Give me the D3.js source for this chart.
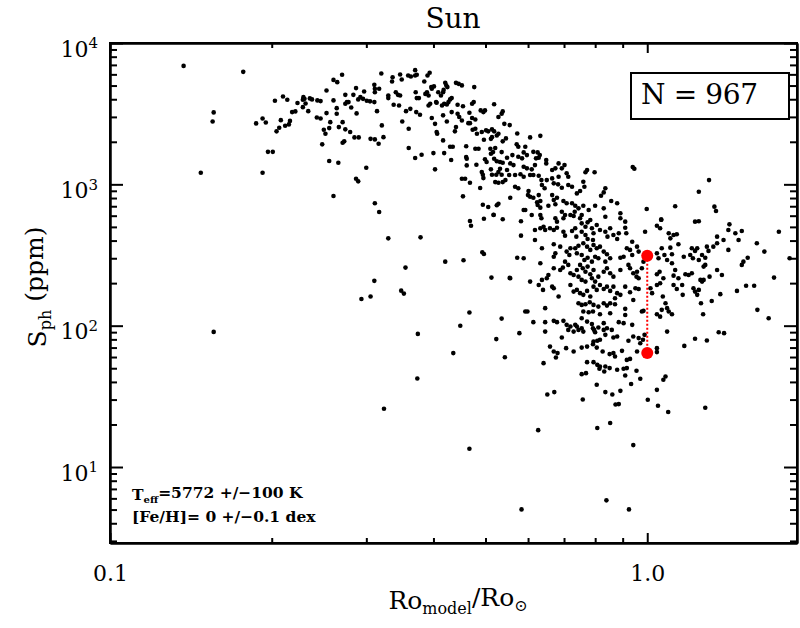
<!DOCTYPE html>
<meta charset="utf-8">
<head>
<style>
  body { margin: 0; background: #fff; }
  text { font-family: "DejaVu Serif", serif; fill: #000; }
  .axis path, .axis line { stroke: #000; stroke-width: 2; fill: none; }
</style>
<script src="https://d3js.org/d3.v7.min.js"></script>
</head>
<body></body>
<script>

var width = 800, height = 628;

// stars: [log10(Ro_model/Ro_sun), log10(S_ph / ppm)]
var stars = [
  [-0.863,3.838],[-0.752,3.796],[-0.807,3.509],[-0.809,3.445],[-0.831,3.082],[-0.716,3.082],[-0.706,3.230],[-0.697,3.230],[-0.728,3.431],[-0.716,3.466],
  [-0.710,3.438],[-0.693,3.591],[-0.690,3.375],[-0.685,3.400],[-0.682,3.454],[-0.678,3.622],[-0.674,3.414],[-0.670,3.598],[-0.667,3.424],[-0.665,3.449],
  [-0.661,3.511],[-0.655,3.516],[-0.651,3.575],[-0.641,3.546],[-0.641,3.598],[-0.640,3.617],[-0.638,3.605],[-0.636,3.572],[-0.631,3.518],[-0.628,3.608],
  [-0.624,3.601],[-0.614,3.594],[-0.608,3.589],[-0.615,3.473],[-0.608,3.466],[-0.602,3.386],[-0.599,3.358],[-0.605,3.283],[-0.597,3.504],[-0.597,3.664],
  [-0.807,1.956],
  [-0.584,3.739],[-0.577,3.723],[-0.568,3.775],[-0.584,3.594],[-0.578,3.539],[-0.590,3.440],[-0.592,3.398],[-0.578,3.499],[-0.574,3.405],[-0.567,3.440],
  [-0.562,3.570],[-0.559,3.582],[-0.556,3.582],[-0.562,3.633],[-0.551,3.544],[-0.562,3.389],[-0.553,3.370],[-0.545,3.332],[-0.537,3.332],[-0.547,3.633],
  [-0.542,3.681],[-0.541,3.502],[-0.538,3.601],[-0.534,3.617],[-0.529,3.605],[-0.527,3.657],[-0.522,3.591],[-0.516,3.587],[-0.508,3.704],[-0.507,3.676],
  [-0.499,3.676],[-0.507,3.652],[-0.508,3.582],[-0.495,3.784],[-0.503,3.518],[-0.515,3.322],[-0.507,3.318],[-0.500,3.287],[-0.491,3.334],[-0.494,3.417],
  [-0.567,3.294],[-0.564,3.304],[-0.592,3.165],[-0.575,3.153],[-0.584,2.917],[-0.542,3.040],[-0.538,3.021],[-0.523,3.117],[-0.507,2.866],[-0.499,2.804],
  [-0.482,3.629],[-0.482,3.610],[-0.475,3.728],[-0.474,3.758],[-0.472,3.563],[-0.468,3.652],[-0.464,3.633],[-0.460,3.629],[-0.460,3.777],[-0.457,3.742],
  [-0.462,3.558],[-0.456,3.445],[-0.449,3.518],[-0.441,3.534],[-0.445,3.770],[-0.440,3.763],[-0.444,3.393],[-0.444,3.257],[-0.432,3.808],[-0.429,3.775],
  [-0.432,3.770],[-0.431,3.652],[-0.429,3.610],[-0.425,3.610],[-0.430,3.511],[-0.423,3.492],[-0.432,3.186],[-0.420,3.209],[-0.415,3.728],[-0.413,3.640],
  [-0.410,3.652],[-0.407,3.629],[-0.409,3.770],[-0.405,3.789],[-0.407,3.558],[-0.404,3.570],[-0.401,3.676],[-0.402,3.688],[-0.397,3.693],[-0.401,3.469],
  [-0.398,3.221],[-0.395,3.428],[-0.392,3.370],[-0.391,3.358],[-0.395,3.106],[-0.393,3.582],[-0.392,3.577],[-0.389,3.652],[-0.384,3.629],[-0.380,3.652],
  [-0.379,3.668],[-0.380,3.488],[-0.380,3.311],[-0.382,3.558],[-0.378,3.570],[-0.373,3.565],[-0.370,3.582],[-0.367,3.601],[-0.364,3.610],[-0.376,3.718],
  [-0.374,3.700],[-0.372,3.688],[-0.378,3.221],[-0.373,3.445],[-0.367,3.266],[-0.362,3.266],[-0.365,3.172],[-0.364,3.511],[-0.356,3.718],[-0.351,3.711],
  [-0.345,3.700],[-0.356,3.405],[-0.358,3.375],[-0.353,3.563],[-0.353,3.499],[-0.350,3.476],[-0.345,3.452],[-0.343,3.553],[-0.345,3.040],[-0.339,3.040],
  [-0.343,2.915],[-0.337,3.269],[-0.337,3.193],[-0.336,3.181],[-0.336,3.134],[-0.333,3.433],[-0.330,3.433],[-0.331,3.506],[-0.330,3.011],[-0.326,3.570],
  [-0.323,3.582],[-0.326,3.469],[-0.320,3.459],[-0.325,3.386],[-0.320,3.393],[-0.317,3.358],[-0.322,3.688],[-0.320,3.252],[-0.314,3.252],[-0.318,3.139],
  [-0.311,2.974],[-0.310,3.523],[-0.305,3.511],[-0.302,3.523],[-0.308,3.370],[-0.306,2.856],[-0.304,3.315],[-0.308,3.087],[-0.306,3.068],[-0.305,3.044],
  [-0.302,3.177],[-0.299,3.158],[-0.300,3.382],[-0.296,3.375],[-0.296,2.840],[-0.292,3.252],[-0.291,3.322],[-0.289,3.334],[-0.291,3.216],[-0.287,3.228],
  [-0.291,3.106],[-0.289,3.068],[-0.289,3.389],[-0.285,3.375],[-0.286,2.785],[-0.285,3.567],[-0.285,3.181],[-0.280,3.163],[-0.283,3.257],[-0.281,3.068],
  [-0.277,3.087],[-0.274,3.110],[-0.271,3.068],[-0.283,3.016],[-0.277,3.011],[-0.269,3.016],[-0.280,3.346],[-0.277,3.358],[-0.280,2.852],[-0.277,2.863],
  [-0.277,3.476],[-0.271,3.499],[-0.269,3.516],[-0.274,3.158],[-0.269,3.153],[-0.271,3.228],[-0.269,3.304],[-0.266,3.428],
  [-0.330,2.741],[-0.328,2.707],[-0.304,2.757],[-0.286,2.783],[-0.269,2.753],[-0.482,2.618],[-0.422,2.625],[-0.376,2.453],[-0.342,2.463],[-0.307,2.519],
  [-0.304,2.507],[-0.450,2.411],[-0.508,2.317],[-0.532,2.189],[-0.515,2.206],[-0.458,2.248],[-0.453,2.227],[-0.290,2.340],[-0.256,2.338],[-0.331,2.093],
  [-0.271,2.050],[-0.348,1.999],[-0.427,1.942],[-0.281,1.905],[-0.361,1.806],[-0.265,1.777],[-0.428,1.626],[-0.490,1.412],[-0.331,1.129],
  [-0.186,1.513],[-0.173,1.530],[-0.120,1.478],[-0.078,1.530],[-0.065,1.513],[-0.050,1.539],[-0.059,1.442],[-0.053,1.445],[0.001,1.476],[0.020,1.433],
  [0.039,1.389],[0.108,1.419],[0.018,1.546],[-0.203,1.261],[-0.093,1.276],[-0.069,1.311],[-0.026,1.155],[-0.076,0.764],[-0.034,0.700],[-0.234,0.700],
  [-0.027,3.122],[-0.024,3.110],[0.115,3.030],[0.096,2.948],[-0.001,2.825],[0.052,2.845],[0.125,2.842],[0.128,2.811],[0.026,2.750],[0.096,2.739],
  [-0.256,3.419],[-0.242,3.360],[-0.218,3.332],[-0.199,3.343],[-0.263,3.325],[-0.243,3.283],[-0.240,3.266],[-0.227,3.266],[-0.251,3.207],[-0.261,3.188],
  [-0.240,3.195],[-0.233,3.184],[-0.230,3.226],[-0.224,3.207],[-0.212,3.230],[-0.204,3.226],[-0.200,3.207],[-0.207,3.184],[-0.202,3.188],[-0.188,3.172],
  [-0.188,3.148],[-0.255,3.148],[-0.249,3.136],[-0.230,3.124],[-0.224,3.113],[-0.209,3.136],[-0.215,3.106],[-0.165,3.148],[-0.154,3.136],[-0.159,3.113],
  [-0.177,3.101],[-0.171,3.113],[-0.261,3.101],[-0.257,3.066],[-0.246,3.066],[-0.236,3.071],[-0.230,3.054],[-0.218,3.066],[-0.212,3.066],[-0.202,3.061],
  [-0.197,3.030],[-0.187,3.030],[-0.177,3.042],[-0.165,3.054],[-0.150,3.078],[-0.147,3.054],[-0.115,3.085],[-0.112,3.101],[-0.098,3.085],[-0.264,3.030],
  [-0.246,2.983],[-0.240,2.972],[-0.221,2.953],[-0.222,2.924],[-0.218,2.912],[-0.212,2.905],[-0.196,2.995],[-0.191,2.972],[-0.174,3.007],[-0.166,3.000],
  [-0.159,2.976],[-0.147,2.995],[-0.140,2.983],[-0.119,3.018],[-0.117,2.983],[-0.125,2.953],[-0.131,2.936],[-0.078,2.972],[-0.081,2.943],[-0.086,2.919],
  [-0.255,2.905],[-0.202,2.924],[-0.199,2.882],[-0.177,2.924],[-0.174,2.889],[-0.168,2.905],[-0.156,2.882],[-0.150,2.866],[-0.205,2.873],[-0.204,2.854],
  [-0.199,2.835],[-0.184,2.849],[-0.171,2.859],[-0.140,2.866],[-0.134,2.849],[-0.128,2.830],[-0.135,2.806],[-0.119,2.849],[-0.109,2.818],[-0.097,2.849],
  [-0.067,2.882],[-0.056,2.866],[-0.230,2.818],[-0.227,2.818],[-0.215,2.783],[-0.199,2.783],[-0.159,2.806],[-0.153,2.783],[-0.143,2.783],[-0.122,2.783],
  [-0.081,2.830],[-0.050,2.795],[-0.197,2.760],[-0.156,2.760],[-0.137,2.776],[-0.078,2.771],
  [-0.235,2.739],[-0.235,2.637],[-0.209,2.677],[-0.199,2.689],[-0.193,2.700],[-0.190,2.677],[-0.209,2.606],[-0.181,2.689],[-0.174,2.677],[-0.168,2.693],
  [-0.171,2.760],[-0.168,2.736],[-0.156,2.665],[-0.153,2.637],[-0.140,2.670],[-0.134,2.689],[-0.132,2.630],[-0.125,2.760],[-0.122,2.724],[-0.115,2.700],
  [-0.111,2.731],[-0.106,2.748],[-0.122,2.665],[-0.115,2.642],[-0.111,2.613],[-0.103,2.689],[-0.100,2.654],[-0.101,2.606],[-0.094,2.712],[-0.088,2.677],
  [-0.078,2.665],[-0.074,2.630],[-0.069,2.689],[-0.063,2.642],[-0.056,2.613],[-0.053,2.654],[-0.041,2.693],[-0.039,2.654],[-0.041,2.736],[-0.050,2.760],
  [-0.028,2.594],[-0.004,2.665],[0.018,2.707],[0.024,2.689],[0.026,2.750],[0.040,2.654],[0.043,2.618],[0.049,2.642],[0.055,2.647],[0.058,2.576],
  [0.089,2.736],[0.093,2.548],[0.089,2.529],[0.111,2.559],[0.114,2.529],[0.130,2.630],[0.130,2.583],[0.142,2.606],[0.151,2.677],[0.153,2.717],
  [0.164,2.654],[0.170,2.606],[0.176,2.670],[0.204,2.583],[0.245,2.665],[0.218,2.524],[0.151,2.536],[0.265,2.477],[0.123,2.559],
  [-0.196,2.548],[-0.174,2.576],[-0.171,2.512],[-0.174,2.488],[-0.162,2.559],[-0.150,2.524],[-0.145,2.500],[-0.143,2.548],[-0.134,2.548],[-0.131,2.512],
  [-0.128,2.566],[-0.119,2.583],[-0.112,2.559],[-0.106,2.536],[-0.100,2.571],[-0.094,2.548],[-0.088,2.559],[-0.122,2.500],[-0.117,2.465],[-0.111,2.481],
  [-0.103,2.453],[-0.097,2.488],[-0.091,2.477],[-0.081,2.524],[-0.075,2.505],[-0.069,2.477],[-0.078,2.453],[-0.050,2.481],[-0.044,2.488],[-0.038,2.548],
  [-0.032,2.536],[-0.028,2.500],[-0.019,2.559],[-0.016,2.524],[-0.242,2.481],[-0.230,2.477],[-0.199,2.442],[-0.255,2.336],[-0.218,2.312],[-0.196,2.324],
  [-0.187,2.336],[-0.184,2.359],[-0.174,2.406],[-0.162,2.394],[-0.157,2.411],[-0.153,2.453],[-0.147,2.430],[-0.143,2.371],[-0.137,2.359],[-0.131,2.394],
  [-0.125,2.430],[-0.120,2.406],[-0.115,2.382],[-0.111,2.418],[-0.106,2.364],[-0.100,2.394],[-0.128,2.347],[-0.122,2.324],[-0.115,2.312],[-0.103,2.336],
  [-0.097,2.312],[-0.091,2.347],[-0.081,2.382],[-0.075,2.406],[-0.069,2.371],[-0.063,2.347],[-0.050,2.394],[-0.035,2.430],[-0.032,2.406],[-0.026,2.371],
  [-0.020,2.347],[-0.016,2.336],[-0.019,2.382],[-0.007,2.453],[-0.010,2.406],[0.018,2.512],[0.021,2.477],[0.027,2.548],[0.032,2.500],[0.037,2.465],
  [0.018,2.364],[0.023,2.382],[0.030,2.336],[0.046,2.442],[0.052,2.394],[0.049,2.354],[0.058,2.336],[0.043,2.552],[0.046,2.505],[0.068,2.488],
  [0.071,2.364],[0.077,2.359],[0.083,2.371],[0.080,2.500],[0.085,2.477],[0.083,2.548],[0.096,2.465],[0.105,2.418],[0.108,2.430],[0.116,2.347],
  [0.130,2.394],[0.139,2.359],[0.179,2.453],[0.176,2.430],[0.187,2.481],[0.236,2.340],[0.099,2.324],[0.102,2.500],[0.108,2.481],
  [-0.202,2.288],[-0.194,2.253],[-0.177,2.276],[-0.174,2.265],[-0.165,2.206],[-0.143,2.288],[-0.137,2.241],[-0.131,2.253],[-0.125,2.230],[-0.119,2.218],
  [-0.112,2.246],[-0.106,2.206],[-0.100,2.276],[-0.094,2.253],[-0.088,2.288],[-0.081,2.260],[-0.075,2.276],[-0.069,2.246],[-0.063,2.276],[-0.056,2.230],
  [-0.050,2.218],[-0.060,2.194],[-0.041,2.276],[-0.032,2.237],[-0.022,2.265],[-0.016,2.260],[-0.128,2.159],[-0.122,2.147],[-0.115,2.152],[-0.107,2.166],
  [-0.100,2.147],[-0.091,2.135],[-0.081,2.159],[-0.075,2.142],[-0.069,2.159],[-0.060,2.152],[-0.026,2.182],[-0.010,2.100],[-0.119,2.100],[-0.109,2.095],
  [-0.101,2.100],[-0.088,2.081],[-0.069,2.088],[-0.041,2.119],[-0.041,2.076],[-0.190,2.124],[-0.227,2.100],[-0.223,2.100],[-0.212,2.025],[-0.190,2.025],
  [-0.174,2.034],[-0.168,2.025],[-0.156,2.034],[-0.150,2.006],[-0.143,1.994],[-0.134,2.006],[-0.128,1.970],[-0.122,2.053],[-0.112,2.029],[-0.103,2.011],
  [-0.099,1.970],[-0.091,1.987],[-0.081,2.018],[-0.075,1.982],[-0.066,1.970],[-0.053,2.025],[-0.044,2.018],
  [0.006,2.265],[0.009,2.230],[0.018,2.288],[0.024,2.300],[0.029,2.206],[0.034,2.159],[0.037,2.124],[0.040,2.100],[0.027,2.112],[0.024,2.064],
  [0.046,2.081],[0.049,2.288],[0.055,2.260],[0.065,2.288],[0.066,2.218],[0.086,2.265],[0.089,2.241],[0.093,2.218],[0.096,2.253],[0.102,2.312],
  [0.105,2.324],[0.100,2.159],[0.104,2.081],[0.120,2.175],[0.136,2.223],[0.167,2.246],[0.184,2.283],[0.199,2.283],[0.205,2.112],[0.226,2.053],
  [0.018,2.081],[-0.007,2.105],
  [-0.238,1.947],[-0.190,1.958],[-0.159,1.916],[-0.147,1.970],[-0.137,1.958],[-0.131,1.994],[-0.122,1.982],[-0.119,1.958],[-0.101,1.982],[-0.097,1.954],
  [-0.100,1.888],[-0.093,1.893],[-0.088,1.900],[-0.081,1.970],[-0.078,1.935],[-0.063,1.916],[-0.056,1.923],[-0.035,1.893],[-0.026,1.923],[-0.028,2.006],
  [-0.016,1.912],[-0.013,1.876],[-0.008,1.900],[-0.005,1.935],[-0.181,1.852],[-0.174,1.817],[-0.170,1.775],[-0.167,1.806],[-0.151,1.841],[-0.137,1.817],
  [-0.122,1.845],[-0.112,1.852],[-0.101,1.869],[-0.094,1.845],[-0.083,1.817],[-0.070,1.799],[-0.063,1.806],[-0.060,1.782],[-0.047,1.822],[-0.038,1.758],
  [-0.032,1.765],[-0.019,1.817],[-0.193,1.735],[-0.112,1.742],[-0.100,1.742],[-0.093,1.723],[-0.088,1.711],[-0.089,1.695],[-0.078,1.711],[-0.070,1.700],
  [-0.056,1.688],[-0.044,1.695],[-0.038,1.700],[-0.122,1.657],[-0.114,1.664],[-0.080,1.676],[-0.020,1.681],[-0.013,1.624],[-0.041,1.647],[0.018,1.841],
  [0.018,1.813],[0.037,1.958],[0.034,1.640],[0.030,1.617],[0.069,1.857],[0.089,1.907],[0.111,1.895],[0.133,1.954],[0.143,1.947],[-0.094,1.582],
  [-0.030,1.587]
];

// the Sun itself, drawn in red at Ro = 1
var sunRo = [1.0, 1.0];
var sunSph = [313, 64];

var nStars = 967;
var xTickValues = [0.1, 1.0];
var xTickLabels = ["0.1", "1.0"];
var yTickValues = [10, 100, 1000, 10000];
var yTickExps = ["1", "2", "3", "4"];

var x = d3.scaleLog().domain([0.1, 1.9]).range([110, 797]);
var y = d3.scaleLog().domain([2.9, 10000]).range([543, 43]);

var xMinor = [0.2, 0.3, 0.4, 0.5, 0.6, 0.7, 0.8, 0.9];
var yMinor = [];
[1, 10, 100, 1000].forEach(function(d) {
    for (var k = 2; k < 10; k++) {
        if (k * d >= 2.9 && k * d <= 10000) yMinor.push(k * d);
    }
});

var svg = d3.select("body").append("svg")
    .attr("width", width)
    .attr("height", height);

svg.append("rect")
    .attr("width", width).attr("height", height)
    .attr("fill", "#fff");

// scatter
svg.append("g").selectAll("circle")
    .data(stars)
  .enter().append("circle")
    .attr("cx", function(d) { return x(Math.pow(10, d[0])); })
    .attr("cy", function(d) { return y(Math.pow(10, d[1])); })
    .attr("r", 2.3)
    .attr("fill", "#000");

// the Sun's range
svg.append("line")
    .attr("x1", x(sunRo[0])).attr("x2", x(sunRo[1]))
    .attr("y1", y(sunSph[0])).attr("y2", y(sunSph[1]))
    .attr("stroke", "#ff0000")
    .attr("stroke-width", 2)
    .attr("stroke-dasharray", "2,2");

svg.append("g").selectAll("circle")
    .data(sunSph)
  .enter().append("circle")
    .attr("cx", function(d, i) { return x(sunRo[i]); })
    .attr("cy", function(d) { return y(d); })
    .attr("r", 6)
    .attr("fill", "#ff0000");

// axes, ticks pointing inward on all four sides
function addAxis(axis, tx, ty) {
    return svg.append("g").attr("class", "axis")
        .attr("transform", "translate(" + tx + "," + ty + ")")
        .call(axis);
}

addAxis(d3.axisBottom(x).tickValues(xMinor).tickSize(-5).tickSizeOuter(0).tickFormat(""), 0, 543);
addAxis(d3.axisTop(x).tickValues(xMinor).tickSize(-5).tickSizeOuter(0).tickFormat(""), 0, 43);
addAxis(d3.axisTop(x).tickValues(xTickValues).tickSize(-10).tickSizeOuter(0).tickFormat(""), 0, 43);
var xAx = addAxis(d3.axisBottom(x).tickValues(xTickValues).tickSize(-10).tickSizeOuter(0)
    .tickPadding(22).tickFormat(function(d, i) { return xTickLabels[i]; }), 0, 543);
xAx.selectAll("text")
    .style("font-size", "22px")
    .attr("font-family", "DejaVu Serif");

addAxis(d3.axisLeft(y).tickValues(yMinor).tickSize(-7).tickSizeOuter(0).tickFormat(""), 110, 0);
addAxis(d3.axisRight(y).tickValues(yMinor).tickSize(-7).tickSizeOuter(0).tickFormat(""), 797, 0);
addAxis(d3.axisRight(y).tickValues(yTickValues).tickSize(-13).tickSizeOuter(0).tickFormat(""), 797, 0);
var yAx = addAxis(d3.axisLeft(y).tickValues(yTickValues).tickSize(-13).tickSizeOuter(0)
    .tickPadding(12).tickFormat(""), 110, 0);
yAx.selectAll(".tick text")
    .attr("dy", "0.6em")
    .style("font-size", "22px")
    .each(function(d, i) {
        var t = d3.select(this);
        t.append("tspan").text("10");
        t.append("tspan").text(yTickExps[i])
            .attr("dy", "-0.55em")
            .style("font-size", "15px");
    });

// frame
svg.append("rect")
    .attr("x", 110).attr("y", 43)
    .attr("width", 687).attr("height", 500)
    .attr("fill", "none")
    .attr("stroke", "#000")
    .attr("stroke-width", 2);

// title
svg.append("text")
    .attr("x", 453).attr("y", 28)
    .attr("text-anchor", "middle")
    .style("font-size", "28px")
    .text("Sun");

// axis titles
var xl = svg.append("text")
    .attr("x", 458).attr("y", 609)
    .attr("text-anchor", "middle")
    .style("font-size", "25px");
xl.append("tspan").text("Ro");
xl.append("tspan").text("model").attr("dy", "0.3em").style("font-size", "16px");
xl.append("tspan").text("/Ro").attr("dy", "-0.3em");
xl.append("tspan").text("\u2299").attr("dy", "0.3em").style("font-size", "16px");

var yl = svg.append("text")
    .attr("transform", "translate(46,287) rotate(-90)")
    .attr("text-anchor", "middle")
    .style("font-size", "25px");
yl.append("tspan").text("S");
yl.append("tspan").text("ph").attr("dy", "0.3em").style("font-size", "16px");
yl.append("tspan").text(" (ppm)").attr("dy", "-0.3em");

// N box
svg.append("rect")
    .attr("x", 631).attr("y", 73)
    .attr("width", 158).attr("height", 46)
    .attr("fill", "#fff")
    .attr("stroke", "#000")
    .attr("stroke-width", 2);
svg.append("text")
    .attr("x", 641).attr("y", 104)
    .attr("textLength", 117)
    .attr("lengthAdjust", "spacing")
    .style("font-size", "28px")
    .text("N = " + nStars);

// stellar parameters
var t1 = svg.append("text")
    .attr("x", 132).attr("y", 500)
    .style("font-size", "15.5px")
    .style("font-weight", "bold");
t1.append("tspan").text("T");
t1.append("tspan").text("eff").attr("dy", "0.3em").style("font-size", "10px");
t1.append("tspan").text("=5772 +/\u2212100 K").attr("dy", "-0.3em");

svg.append("text")
    .attr("x", 132).attr("y", 522)
    .style("font-size", "15.5px")
    .style("font-weight", "bold")
    .text("[Fe/H]= 0 +/\u22120.1 dex");

</script>
